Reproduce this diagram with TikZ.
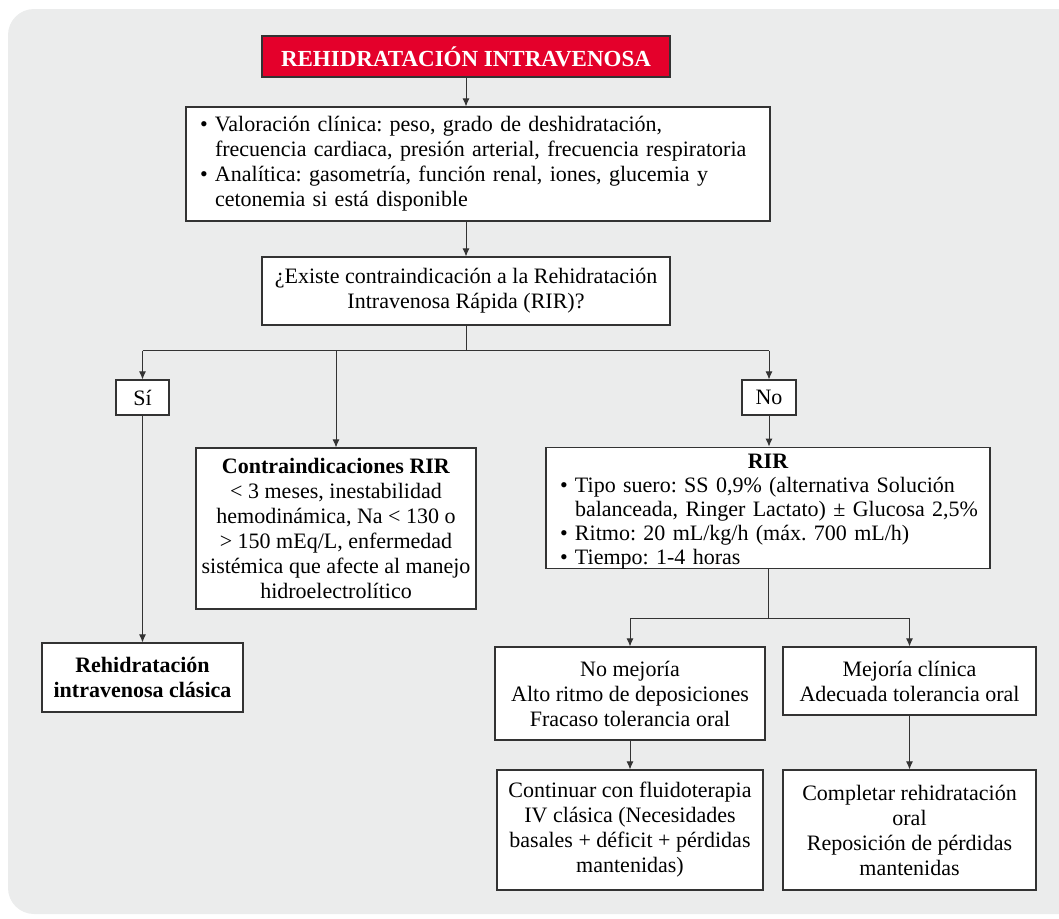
\documentclass[tikz,border=0pt]{standalone}
\usepackage{fontspec}
\setmainfont{Liberation Serif}
\usepackage{xcolor}
\usetikzlibrary{arrows.meta, positioning, calc}

\definecolor{fondo}{HTML}{EBECEC}
\definecolor{rojo}{HTML}{E4002B}
\definecolor{linea}{HTML}{333333}
\newcommand{\itm}{\makebox[15pt][l]{\textbullet}}
\newcommand{\ind}{\hspace*{15pt}}
\frenchspacing

\begin{document}
\begin{tikzpicture}[x=1pt, y=-1pt,
        box/.style={draw=linea, line width=1.1pt, fill=white, inner sep=0pt,
            align=center, font=\fontsize{22}{25}\selectfont},
        listbox/.style={box, align=left, inner xsep=14pt},
        arr/.style={draw=linea, line width=1pt, -{Latex[length=8pt,width=7pt]}},
        conn/.style={draw=linea, line width=1pt}]

        \useasboundingbox (0,0) rectangle (1059,918);
        \fill[fondo, rounded corners=26pt] (8,9) rectangle (1090,914);% fondo

        % cabecera y valoracion
        \node[box, fill=rojo, text=white, font=\fontsize{23}{25}\selectfont\bfseries,
            minimum width=408pt, minimum height=41pt] (title) at (466,56.5) {REHIDRATACIÓN INTRAVENOSA};
        \node[listbox, text width=556pt, minimum height=114pt] (assess) at (478,164)
            {\itm Valoración clínica: peso, grado de deshidratación,\\
             \ind frecuencia cardiaca, presión arterial, frecuencia respiratoria\\
             \itm Analítica: gasometría, función renal, iones, glucemia y\\
             \ind cetonemia si está disponible};
        \node[box, minimum width=408pt, minimum height=68pt] (question) at (466,291)
            {¿Existe contraindicación a la Rehidratación\\ Intravenosa Rápida (RIR)?};

        % decision
        \node[box, minimum width=53pt, minimum height=35pt] (si) at (142.5,397.5) {Sí};
        \node[box, minimum width=54pt, minimum height=35pt] (no) at (769,397.5) {No};
        \node[box, minimum width=280pt, minimum height=161pt] (contra) at (336,528.5)
            {\textbf{Contraindicaciones RIR}\\ < 3 meses, inestabilidad\\ hemodinámica, Na < 130 o\\
             > 150 mEq/L, enfermedad\\ sistémica que afecte al manejo\\ hidroelectrolítico};
        \node[box, font=\fontsize{22}{25}\selectfont\bfseries, minimum width=201pt, minimum height=69pt]
            (clasica) at (142.5,677.5) {Rehidratación\\ intravenosa clásica};
        \node[listbox, font=\fontsize{22}{24}\selectfont, text width=416pt, minimum height=120pt]
            (rir) at (768,508)
            {{\centering\rule{0pt}{21pt}\bfseries RIR\par}
             \itm Tipo suero: SS 0,9\% (alternativa Solución\\
             \ind\mbox{balanceada, Ringer Lactato) ± Glucosa 2,5\%}\\
             \itm Ritmo: 20 mL/kg/h (máx. 700 mL/h)\\
             \itm Tiempo: 1-4 horas};

        % evolucion
        \node[box, minimum width=270pt, minimum height=93pt] (nomej) at (630,693.5)
            {No mejoría\\ Alto ritmo de deposiciones\\ Fracaso tolerancia oral};
        \node[box, minimum width=253pt, minimum height=68pt] (mej) at (909.5,681)
            {Mejoría clínica\\ Adecuada tolerancia oral};
        \node[box, minimum width=266pt, minimum height=120pt] (cont) at (630,830)
            {Continuar con fluidoterapia\\ IV clásica (Necesidades\\ basales + déficit + pérdidas\\ mantenidas)};
        \node[box, minimum width=253pt, minimum height=120pt] (compl) at (909.5,830)
            {Completar rehidratación\\ oral\\ Reposición de pérdidas\\ mantenidas};

        % conectores
        \draw[arr] (title.south) -- (title.south |- assess.north);
        \draw[arr] (question.north |- assess.south) -- (question.north);
        \draw[conn] (question.south) -- ++(0,25) coordinate (split);
        \draw[conn] (si |- split) -- (no |- split);
        \draw[arr] (si |- split) -- (si.north);
        \draw[arr] (contra |- split) -- (contra.north);
        \draw[arr] (no |- split) -- (no.north);
        \draw[arr] (si.south) -- (clasica.north);
        \draw[arr] (no.south) -- (no.south |- rir.north);
        \draw[conn] (rir.south) -- ++(0,49) coordinate (split2);
        \draw[conn] (nomej |- split2) -- (mej |- split2);
        \draw[arr] (nomej |- split2) -- (nomej.north);
        \draw[arr] (mej |- split2) -- (mej.north);
        \draw[arr] (nomej.south) -- (cont.north);
        \draw[arr] (mej.south) -- (compl.north);
    \end{tikzpicture}
\end{document}
